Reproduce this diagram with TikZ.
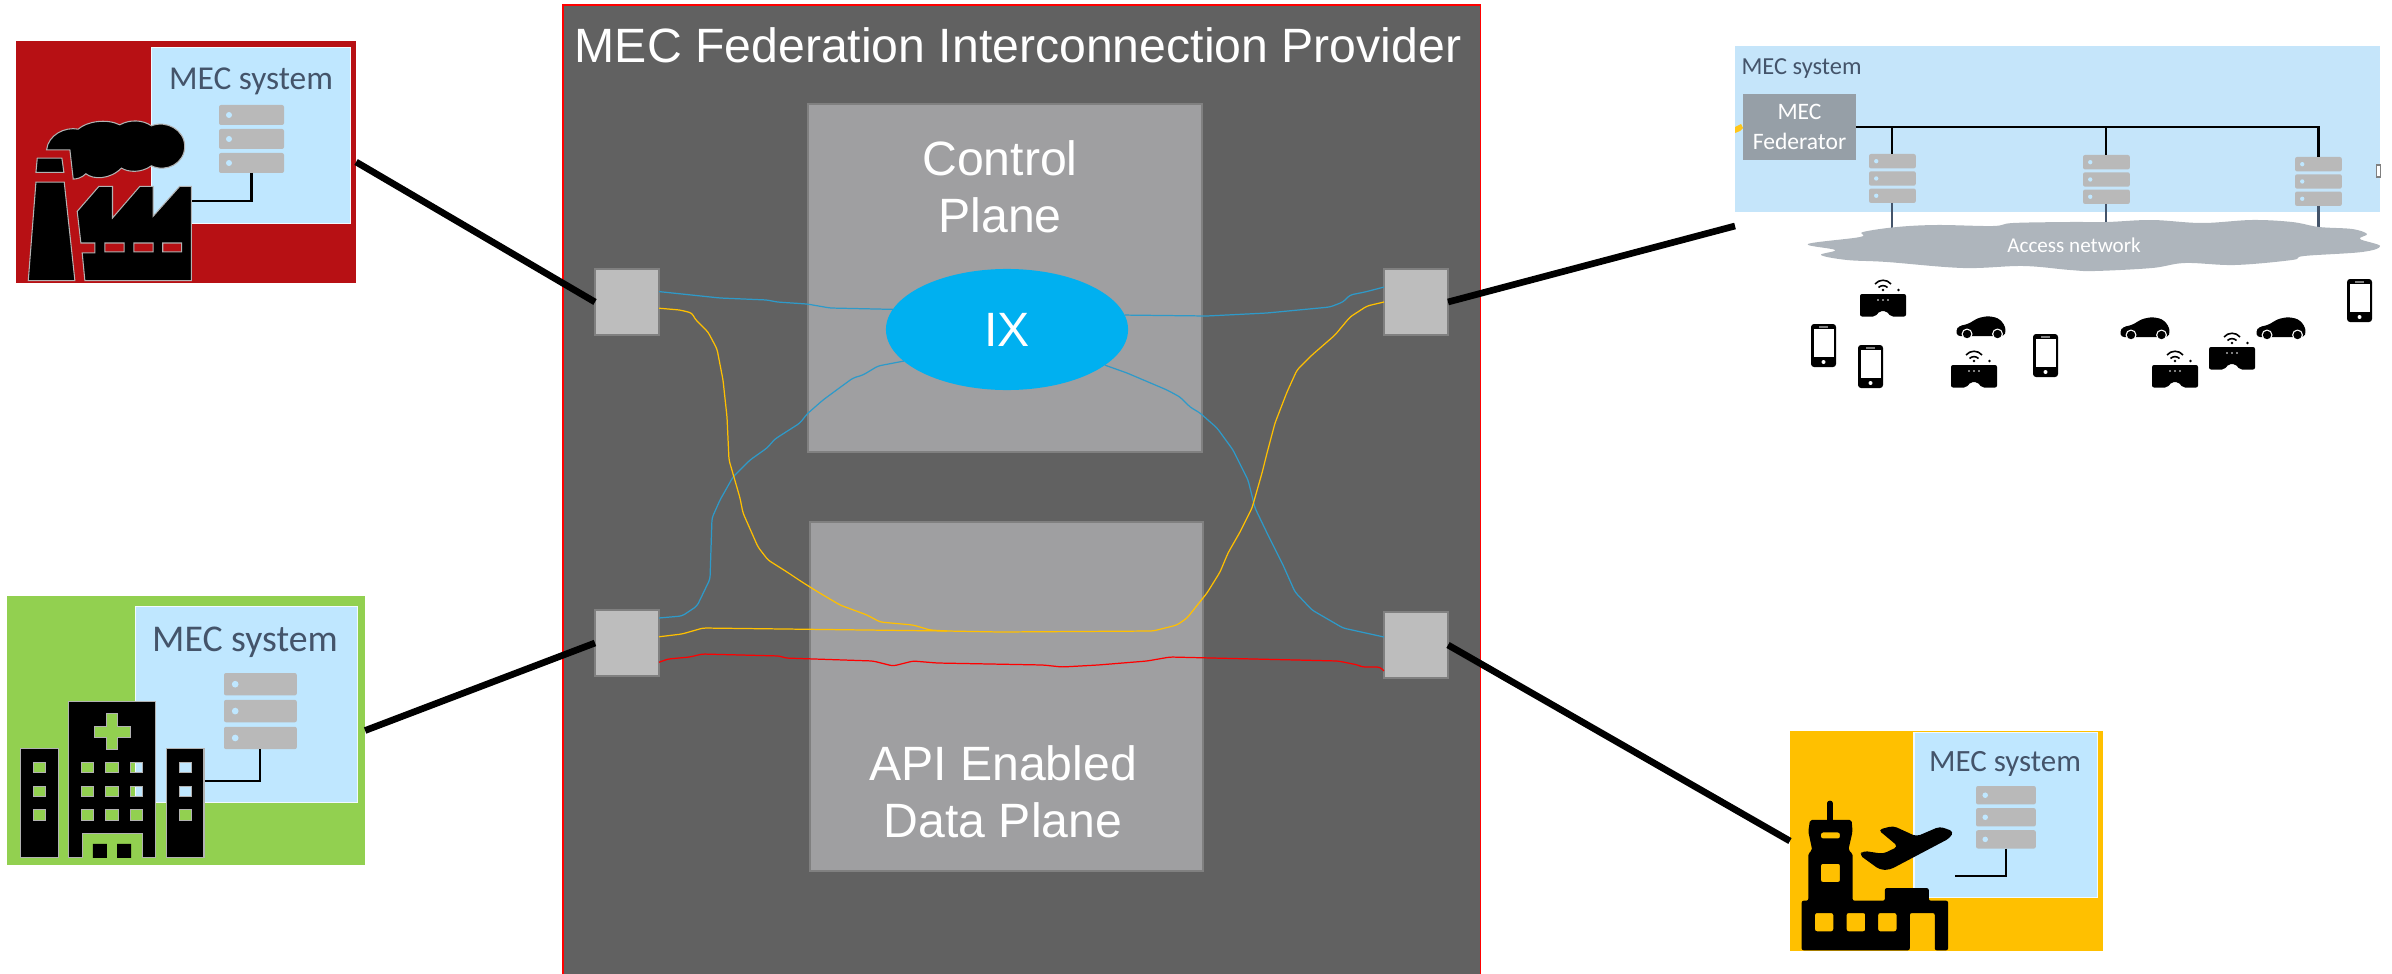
\documentclass[tikz,border=0pt]{standalone}
\usepackage{fontspec}
\setmainfont{Liberation Sans}
\newfontfamily\carlitofont{Carlito}
\usetikzlibrary{shapes.geometric}
\definecolor{panelGray}{RGB}{97, 97, 97}
\definecolor{planeGray}{RGB}{159, 159, 161}
\definecolor{portGray}{RGB}{189, 189, 189}
\definecolor{ixBlue}{RGB}{0, 176, 240}
\definecolor{mecBlue}{RGB}{191, 231, 255}
\definecolor{blockBlue}{RGB}{197, 229, 250}
\definecolor{labelSlate}{RGB}{68, 84, 106}
\definecolor{serverGray}{RGB}{185, 185, 185}
\definecolor{cloudGray}{RGB}{174, 181, 188}
\definecolor{fedGray}{RGB}{150, 159, 167}
\definecolor{factoryRed}{RGB}{183, 16, 20}
\definecolor{hospitalGreen}{RGB}{146, 208, 80}
\definecolor{airportYellow}{RGB}{255, 192, 0}
\definecolor{wireBlue}{RGB}{46, 154, 201}
\tikzset{
  box/.style={inner sep=0pt, outer sep=0pt, minimum width=#1},
  mecbox/.style={box=#1, fill=mecBlue, draw=white!80!mecBlue, line width=0.3pt},
  planebox/.style={box=#1, fill=planeGray, draw=gray, line width=0.4pt},
  portbox/.style={box=0.64cm, minimum height=0.66cm, fill=portGray, draw=gray, line width=0.4pt},
  biglabel/.style={text=white, align=center, inner sep=0pt, font=\fontsize{13.7}{16.2}\selectfont},
  meclabel/.style={text=labelSlate, inner sep=0pt, font=\carlitofont\fontsize{#1}{#1}\selectfont},
  link/.style={line width=1.9pt},
  wire/.style={line width=0.35pt, rounded corners=0.03cm, #1},
  srvwire/.style={line width=0.6pt},
  iconfill/.style={fill=black, draw=white!70!black, line width=0.3pt},
  zoomed/.style={x=0.003333cm, y=-0.003333cm},
  serverstack/.pic={
    \fill[serverGray, rounded corners=0.02cm] (0,0) rectangle (65,20);
    \fill[serverGray, rounded corners=0.02cm] (0,24) rectangle (65,44);
    \fill[serverGray, rounded corners=0.02cm] (0,48) rectangle (65,68);
    \fill[mecBlue] (10,10) circle[radius=3] (10,34) circle[radius=3] (10,58) circle[radius=3];
    \coordinate (-top) at (32.5,0);
    \coordinate (-bot) at (32.5,68);
  },
  phoneicon/.pic={
    \fill[black, rounded corners=0.03cm] (0,0) rectangle (25,43);
    \fill[white] (2.5,5) rectangle (22.5,33);
    \fill[white] (12.5,38) circle[radius=2];
    \fill[gray] (8,2) rectangle (17,3.5);
  },
  caricon/.pic={
    \fill[black, rounded corners=0.03cm] (1,20) -- (0,14) -- (3,10) -- (12,8) -- (22,2) -- (32,0) -- (42,2) -- (48,8) -- (50,15) -- (48,20) -- cycle;
    \fill[white] (11,18) circle[radius=5.5] (41.5,18) circle[radius=5.5];
    \fill[black] (11,18) circle[radius=4.2] (41.5,18) circle[radius=4.2];
  },
  headseticon/.pic={
    \fill[black, rounded corners=0.02cm] (0,0) -- (46,0) -- (46,22.5) -- (31,22.5) -- (26,17) -- (20,17) -- (15,22.5) -- (0,22.5) -- cycle;
    \fill[white] (18,6) circle[radius=0.8] (23,6) circle[radius=0.8] (28,6) circle[radius=0.8];
    \draw[line width=0.45pt] (15,-10) .. controls (19,-15) and (27,-15) .. (31,-10);
    \draw[line width=0.45pt] (18.5,-6.5) .. controls (21,-9) and (25,-9) .. (27.5,-6.5);
    \fill[black] (23,-4) circle[radius=1.3] (38.5,-4) circle[radius=1.4];
  }
}
\begin{document}
\begin{tikzpicture}[x=0.01cm, y=-0.01cm]
    \useasboundingbox (0,0) rectangle (2392,973);

    \node[box=9.17cm, minimum height=9.8cm, fill=panelGray, draw=red, line width=0.45pt] (provider) at (1021.5,495) {};
    \node[biglabel] (providerTitle) at (1018,45) {MEC Federation Interconnection Provider};

    \node[planebox=3.94cm, minimum height=3.48cm] (control) at (1005,278) {};
    \node[biglabel] (controlLabel) at (1000,186.5) {Control\\Plane};
    \node[planebox=3.93cm, minimum height=3.49cm] (data) at (1006.5,696.5) {};
    \node[biglabel] (dataLabel) at (1003,792) {API Enabled\\Data Plane};
    \node[ellipse, box=2.42cm, minimum height=1.21cm, fill=ixBlue] (ix) at (1007,329.5) {};
    \node[biglabel] (ixLabel) at (1007,330) {IX};

    \node[box=3.40cm, minimum height=2.42cm, fill=factoryRed] (factory) at (186,162) {};
    \node[mecbox=1.98cm, minimum height=1.75cm] (factoryMec) at (251,135.5) {};
    \node[meclabel=9.5] (factoryLabel) at (251,81) {MEC system};
    \pic (factorySrv) at (219,105) {serverstack};

    \node[box=3.58cm, minimum height=2.69cm, fill=hospitalGreen] (hospital) at (186,730.5) {};
    \node[mecbox=2.21cm, minimum height=1.95cm] (hospitalMec) at (246.5,704.5) {};
    \node[meclabel=10.75] (hospitalLabel) at (245,642) {MEC system};
    \pic[scale=1.12] (hospitalSrv) at (224,673) {serverstack};

    \node[box=3.13cm, minimum height=2.20cm, fill=airportYellow] (airport) at (1946.5,841) {};
    \node[mecbox=1.83cm, minimum height=1.64cm] (airportMec) at (2005.5,815) {};
    \node[meclabel=8.8] (airportLabel) at (2005,764) {MEC system};
    \pic[scale=0.92] (airportSrv) at (1976,786) {serverstack};

    \node[box=6.45cm, minimum height=1.66cm, fill=blockBlue] (block) at (2057.5,129) {};
    \node[meclabel=6.95] (blockLabel) at (1801.5,69) {MEC system};
    \fill[airportYellow!90!white] (1735,133) -- (1735,127) -- (1741,124) -- (1743,128) -- (1740,131) -- cycle;
    \draw[fill=white, draw=gray, line width=0.3pt] (2376,165) rectangle (2380,177);
    \node[box=1.13cm, minimum height=0.66cm, fill=fedGray, text=white, align=center, font=\carlitofont\fontsize{6.7}{8.5}\selectfont] (federator) at (1799.5,127) {MEC\\Federator};

    \coordinate (blockEnd) at (1735,226);
    \node[portbox] (portLT) at (627,302) {};
    \node[portbox] (portLB) at (627,643) {};
    \node[portbox] (portRT) at (1416,302) {};
    \node[portbox] (portRB) at (1416,645) {};
    \draw[link] (factory.east) -- (portLT.west);
    \draw[link] (hospital.east) -- (portLB.west);
    \draw[link] (portRT.east) -- (blockEnd);
    \draw[link] (portRB.east) -- (airport.west);

    \draw[wire=wireBlue] (portLT.18) -- (720,298) -- (767,300) -- (777,302) -- (807,304) -- (830,308) -- (ix.170);
    \draw[wire=wireBlue] (portLB.38) -- (682,616) -- (697,606) -- (710,579) -- (712,518) -- (720,500) -- (733,477) -- (750,460) -- (767,448) -- (775,439) -- (800,423) -- (807,414) -- (823,400) -- (842,386) -- (853,378) -- (863,375) -- (878,366) -- (ix.197);
    \draw[wire=wireBlue] (ix.7) -- (1207,316) -- (1267,313) -- (1330,307) -- (1343,302) -- (1350,295) -- (1365,292) -- (portRT.155);
    \draw[wire=wireBlue] (ix.-20) -- (1127,373) -- (1167,390) -- (1180,397) -- (1190,407) -- (1200,413) -- (1217,428) -- (1233,450) -- (1248,480) -- (1255,508) -- (1267,533) -- (1283,565) -- (1295,592) -- (1312,610) -- (1343,628) -- (portRB.166);

    \coordinate (orangeJoin) at (947,631);
    \draw[wire=airportYellow] (portLT.-11) -- (680,310) -- (692,313) -- (695,319) -- (708,332) -- (717,349) -- (723,380) -- (727,417) -- (729,460) -- (740,498) -- (743,513) -- (758,547) -- (768,560) -- (787,572) -- (802,582) -- (818,592) -- (840,605) -- (867,615) -- (880,622) -- (913,625) -- (930,630) -- (orangeJoin);
    \draw[wire=airportYellow] (portLB.11) -- (682,634) -- (703,628) -- (orangeJoin) -- (1000,632) -- (1153,631) -- (1177,625) -- (1187,618) -- (1207,593) -- (1220,572) -- (1228,553) -- (1240,532) -- (1252,508) -- (1262,473) -- (1267,453) -- (1275,423) -- (1287,392) -- (1297,370) -- (1312,355) -- (1335,335) -- (1350,317) -- (1367,306) -- (portRT.180);
    \draw[wire=red] (portLB.-31) -- (668,659) -- (690,657) -- (702,654) -- (780,656) -- (785,658) -- (873,661) -- (893,666) -- (913,661) -- (937,663) -- (1043,665) -- (1062,667) -- (1098,665) -- (1147,661) -- (1170,657) -- (1338,661) -- (1358,665) -- (1362,667) -- (1380,667) -- (portRB.219);

    \begin{scope}[shift={(0,20)}, zoomed]
        \coordinate (factoryWire) at (575,545);
        \draw[srvwire] (factorySrv-bot) |- (factoryWire);
        \filldraw[iconfill] (112,415) -- (186,415) -- (192,458) -- (108,458) -- cycle;
        \filldraw[iconfill] (108,487) -- (193,487) -- (225,783) -- (85,783) -- cycle;
        \filldraw[iconfill] (140,390) .. controls (145,345) and (195,320) .. (235,328) .. controls (260,305) and (320,295) .. (360,315) .. controls (390,298) and (430,300) .. (455,318) .. controls (500,300) and (555,330) .. (555,380) .. controls (555,430) and (500,460) .. (455,438) .. controls (425,460) and (385,458) .. (365,445) .. controls (330,480) and (280,480) .. (258,462) .. controls (245,475) and (230,478) .. (220,478) -- (210,390) -- cycle;
        \filldraw[iconfill, even odd rule] (232,575) -- (297,500) -- (338,500) -- (338,595) -- (420,500) -- (460,500) -- (460,590) -- (540,500) -- (575,500) -- (575,783) -- (255,783) -- (247,700) -- (285,700) -- (285,670) -- (243,670) -- cycle
            (315,670) rectangle (373,697) (402,670) rectangle (460,697) (489,670) rectangle (546,697);
    \end{scope}

    \begin{scope}[shift={(0,590)}, zoomed]
        \coordinate (hospitalWire) at (612,573);
        \draw[srvwire] (hospitalSrv-bot) |- (hospitalWire);
        \filldraw[iconfill, even odd rule] (62,477) rectangle (177,805)
            (100,518) rectangle (136,548) (100,590) rectangle (136,620) (100,660) rectangle (136,692);
        \filldraw[iconfill, even odd rule] (206,335) -- (467,335) -- (467,805) -- (427,805) -- (427,733) -- (248,733) -- (248,805) -- (206,805) -- cycle
            (321,372) -- (353,372) -- (353,410) -- (391,410) -- (391,442) -- (353,442) -- (353,480) -- (321,480) -- (321,442) -- (283,442) -- (283,410) -- (321,410) -- cycle
            (246,518) rectangle (282,548) (318,518) rectangle (355,548) (391,518) rectangle (428,548)
            (246,590) rectangle (282,620) (318,590) rectangle (355,620) (391,590) rectangle (428,620)
            (246,660) rectangle (282,692) (318,660) rectangle (355,692) (391,660) rectangle (428,692);
        \fill[black] (279,763) rectangle (321,805) (352,763) rectangle (394,805);
        \filldraw[iconfill, even odd rule] (499,477) rectangle (613,805)
            (538,518) rectangle (575,548) (538,590) rectangle (575,620) (538,660) rectangle (575,692);
    \end{scope}

    \begin{scope}[shift={(1780,720)}, zoomed]
        \coordinate (airportWire) at (525,470);
        \draw[srvwire] (airportSrv-bot) |- (airportWire);
        \draw[line width=1.5pt, line cap=round] (150,250) -- (150,305);
        \fill[black, even odd rule, rounded corners=0.02cm] (90,300) -- (215,300) -- (218,335) -- (205,392) -- (218,400) -- (218,543) -- (315,543) -- (315,505) -- (447,505) -- (447,543) -- (505,543) -- (505,692) -- (465,692) -- (465,580) -- (390,580) -- (390,692) -- (65,692) -- (65,543) -- (85,543) -- (85,400) -- (97,392) -- (85,335) -- cycle
            (123,338) rectangle (180,356) (123,432) rectangle (180,487)
            (105,580) rectangle (160,635) (200,580) rectangle (256,635) (295,580) rectangle (350,635);
        \fill[black, rounded corners=0.04cm] (295,330) -- (340,318) -- (410,350) -- (480,320) -- (522,335) -- (510,355) -- (330,450) -- (300,450) -- (238,405) -- (250,393) -- (310,402) -- (355,380) -- cycle;
    \end{scope}

    \pic[scale=0.72] (blockSrvA) at (1869,154) {serverstack};
    \pic[scale=0.72] (blockSrvB) at (2083,155) {serverstack};
    \pic[scale=0.72] (blockSrvC) at (2295,157) {serverstack};
    \draw[srvwire] (federator.east) -| (blockSrvC-top);
    \draw[srvwire] (blockSrvA-top |- federator.east) -- (blockSrvA-top);
    \draw[srvwire] (blockSrvB-top |- federator.east) -- (blockSrvB-top);
    \draw[srvwire, labelSlate] (blockSrvA-bot) -- ++(0,26);
    \draw[srvwire, labelSlate] (blockSrvB-bot) -- ++(0,20);
    \draw[srvwire, labelSlate] (blockSrvC-bot) -- ++(0,22);

    \fill[cloudGray] plot[smooth cycle, tension=0.6] coordinates {(1808,244) (1860,237) (1863,232) (1897,227) (1937,225) (1993,226) (2013,223) (2070,222) (2107,222) (2152,220) (2202,223) (2252,220) (2292,222) (2319,227) (2352,229) (2367,234) (2360,239) (2380,246) (2362,252) (2304,256) (2292,260) (2235,265) (2185,263) (2152,268) (2095,271) (2070,270) (2023,266) (1963,268) (1887,262) (1847,260) (1821,255) (1835,250)};
    \node[text=white, inner sep=0pt, font=\carlitofont\fontsize{6}{6}\selectfont] (accessLabel) at (2074,245) {Access network};

    \pic at (1811,324) {phoneicon};
    \pic at (1858,345) {phoneicon};
    \pic at (2033,334) {phoneicon};
    \pic at (2347,279) {phoneicon};
    \pic at (1860,294) {headseticon};
    \pic at (1951,365) {headseticon};
    \pic at (2152,365) {headseticon};
    \pic at (2209,347) {headseticon};
    \pic at (1956,316) {caricon};
    \pic at (2120,317) {caricon};
    \pic at (2256,317) {caricon};
\end{tikzpicture}
\end{document}
